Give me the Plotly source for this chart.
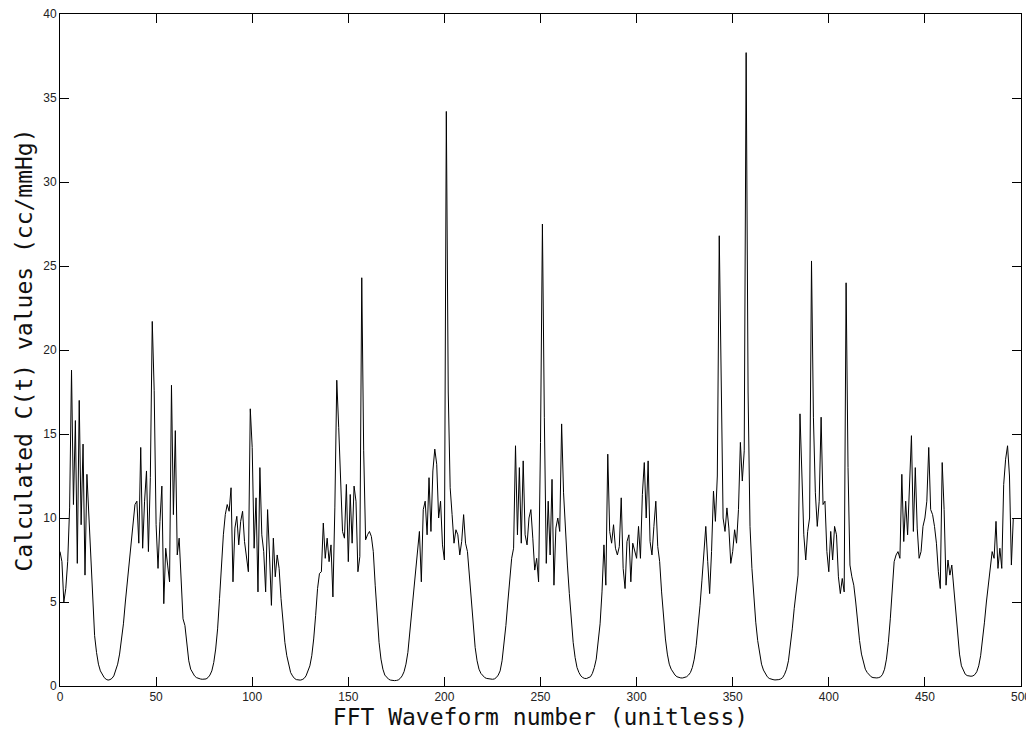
import plotly.graph_objects as go

# Calculated C(t) values (cc/mmHg), one value per FFT waveform number, in blocks of 50
c_000_049 = [8.0, 7.4, 5.0, 5.8, 7.4, 10.6, 18.8, 10.8, 15.8, 7.3,
             17.0, 9.6, 14.4, 6.6, 12.6, 10.2, 7.0, 4.6, 3.0, 2.0,
             1.3, 0.9, 0.65, 0.5, 0.4, 0.35, 0.38, 0.45, 0.6, 0.9,
             1.3, 1.9, 2.7, 3.7, 5.0, 6.2, 7.6, 8.7, 10.0, 10.8,
             11.0, 8.5, 14.2, 8.2, 11.0, 12.8, 8.0, 12.4, 21.7, 17.6]
c_050_099 = [9.6, 7.0, 9.8, 11.9, 4.9, 8.2, 7.2, 6.2, 17.9, 10.2,
             15.2, 7.8, 8.8, 6.5, 4.0, 3.6, 2.3, 1.5, 1.0, 0.75,
             0.6, 0.5, 0.45, 0.42, 0.4, 0.4, 0.42, 0.5, 0.65, 0.9,
             1.4, 2.2, 3.4, 5.2, 7.3, 9.0, 10.2, 10.8, 10.4, 11.8,
             6.2, 9.4, 10.1, 8.4, 9.8, 10.4, 8.6, 7.5, 6.8, 16.5]
c_100_149 = [14.2, 8.2, 11.2, 5.6, 13.0, 9.0, 8.0, 5.6, 10.5, 7.8,
             4.8, 8.8, 6.5, 7.8, 7.0, 5.2, 3.8, 2.6, 1.8, 1.2,
             0.8, 0.6, 0.45, 0.38, 0.35, 0.35, 0.38, 0.45, 0.6, 0.85,
             1.2, 1.8, 2.8, 4.2, 5.8, 6.7, 6.8, 9.7, 7.6, 8.8,
             7.4, 8.4, 5.3, 10.6, 18.2, 15.4, 12.2, 9.2, 8.8, 12.0]
c_150_199 = [7.4, 11.4, 8.5, 11.9, 11.0, 6.8, 7.7, 24.3, 14.0, 8.7,
             9.0, 9.2, 8.9, 8.0, 6.0, 4.0, 2.6, 1.6, 1.0, 0.65,
             0.5, 0.4, 0.35, 0.32, 0.32, 0.33, 0.36, 0.45, 0.6, 0.85,
             1.3, 2.0, 3.2, 4.2, 5.6, 6.6, 7.8, 9.2, 6.2, 10.5,
             11.0, 9.0, 12.4, 9.2, 12.8, 14.1, 13.2, 10.0, 11.0, 8.4]
c_200_249 = [7.5, 34.2, 17.5, 11.8, 10.2, 8.5, 9.3, 9.0, 7.8, 8.6,
             10.2, 8.5, 8.0, 6.5, 4.8, 3.4, 2.3, 1.5, 1.0, 0.75,
             0.6, 0.5, 0.45, 0.42, 0.4, 0.4, 0.42, 0.5, 0.65, 0.9,
             1.5, 2.4, 3.6, 5.0, 6.5, 7.6, 8.2, 14.3, 9.0, 13.0,
             8.5, 13.4, 9.0, 8.4, 10.0, 10.5, 8.8, 6.9, 7.6, 6.2]
c_250_299 = [14.5, 27.5, 16.0, 7.3, 11.0, 7.8, 12.3, 6.0, 9.4, 10.0,
             9.2, 15.6, 11.5, 9.0, 7.2, 5.5, 3.8, 2.6, 1.7, 1.1,
             0.8, 0.6, 0.5, 0.45, 0.45, 0.48, 0.55, 0.75, 1.1, 1.6,
             2.5, 3.7, 5.6, 8.4, 6.0, 13.8, 9.2, 8.5, 9.6, 8.2,
             7.8, 8.3, 11.2, 7.0, 5.8, 8.6, 9.0, 6.2, 8.5, 8.0]
c_300_349 = [7.6, 9.5, 7.6, 11.4, 13.3, 10.0, 13.4, 8.6, 7.8, 9.5,
             11.0, 8.3, 7.4, 5.6, 4.0, 2.8, 1.9, 1.3, 1.0, 0.8,
             0.65, 0.55, 0.5, 0.48, 0.48, 0.5, 0.55, 0.65, 0.8, 1.1,
             1.6, 2.4, 3.5, 4.8, 6.3, 7.8, 9.5, 7.4, 5.5, 8.0,
             11.6, 9.8, 12.5, 26.8, 17.0, 10.0, 9.2, 10.6, 9.4, 7.3]
c_350_399 = [8.0, 9.3, 8.5, 10.5, 14.5, 12.2, 14.0, 37.7, 17.5, 9.5,
             7.0, 5.2, 3.8, 2.7, 1.9, 1.3, 0.95, 0.7, 0.55, 0.45,
             0.4, 0.38, 0.36, 0.36, 0.38, 0.42, 0.5, 0.7, 1.0, 1.5,
             2.3, 3.4, 4.6, 5.8, 6.6, 16.2, 12.0, 9.0, 7.5, 9.2,
             10.0, 25.3, 16.0, 11.5, 9.5, 11.0, 16.0, 10.8, 11.0, 8.0]
c_400_449 = [6.8, 9.2, 7.5, 9.5, 9.0, 6.5, 5.5, 6.4, 5.6, 24.0,
             13.0, 7.2, 6.5, 6.0, 5.0, 3.8, 2.7, 1.9, 1.4, 1.0,
             0.8, 0.65, 0.55, 0.5, 0.48, 0.48, 0.5, 0.55, 0.7, 1.0,
             1.6, 2.6, 4.0, 5.6, 7.4, 7.8, 8.0, 7.6, 12.6, 8.6,
             11.0, 9.0, 11.8, 14.9, 9.2, 13.0, 9.4, 7.6, 8.0, 9.5]
c_450_496 = [10.0, 11.0, 14.2, 10.5, 10.2, 9.5, 8.5, 6.8, 5.8, 13.3,
             10.5, 6.0, 7.5, 6.6, 7.2, 5.8, 4.2, 2.9, 1.9, 1.2,
             0.9, 0.7, 0.62, 0.58, 0.58, 0.6, 0.68, 0.85, 1.2, 1.8,
             2.7, 3.8, 5.0, 6.0, 6.8, 8.0, 7.6, 9.8, 7.0, 8.2,
             7.0, 12.0, 13.5, 14.3, 12.5, 7.2, 10.0]

x_ticks = [0, 50, 100, 150, 200, 250, 300, 350, 400, 450, 500]
y_ticks = [0, 5, 10, 15, 20, 25, 30, 35, 40]

c_values = (c_000_049 + c_050_099 + c_100_149 + c_150_199 + c_200_249 +
            c_250_299 + c_300_349 + c_350_399 + c_400_449 + c_450_496)
waveform = list(range(len(c_values)))

fig = go.Figure()
fig.add_trace(go.Scatter(x=waveform, y=c_values, mode="lines",
                         line=dict(color="black", width=1), showlegend=False))

axis_common = dict(showline=True, linecolor="black", linewidth=1, mirror="ticks",
                   ticks="inside", ticklen=9, tickcolor="black", tickwidth=1,
                   showgrid=False, zeroline=False, ticklabeloverflow="allow",
                   tickfont=dict(family="Liberation Sans, Arial, sans-serif", size=12, color="#222"))

fig.update_layout(
    width=1026, height=726,
    paper_bgcolor="white", plot_bgcolor="white",
    margin=dict(l=52, r=13, t=6, b=48),
    xaxis=dict(range=[0, 500], tickvals=x_ticks, ticktext=[str(v) for v in x_ticks],
               title=dict(text="FFT Waveform number (unitless)", standoff=4,
                          font=dict(family="DejaVu Sans Mono, monospace", size=23, color="#111")),
               automargin=False, **axis_common),
    yaxis=dict(range=[0, 40], tickvals=y_ticks, ticktext=[str(v) for v in y_ticks],
               title=dict(text="Calculated C(t) values (cc/mmHg)", standoff=4,
                          font=dict(family="DejaVu Sans Mono, monospace", size=23, color="#111")),
               automargin=False, **axis_common),
)

fig.write_html("out.html")
